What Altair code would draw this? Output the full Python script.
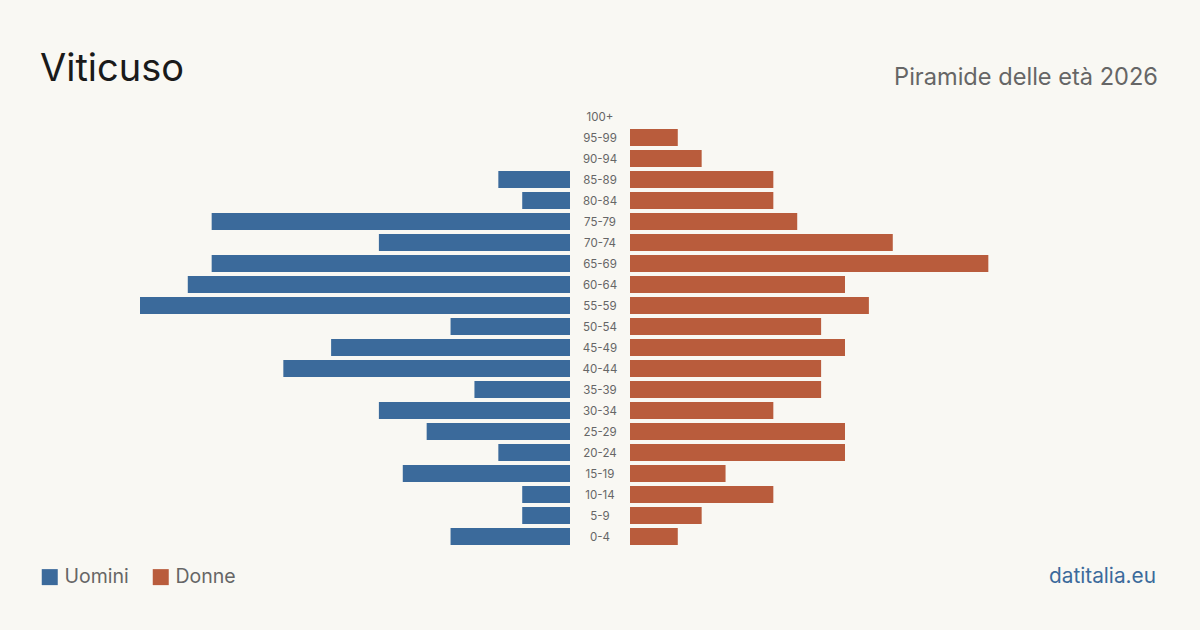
import altair as alt
import pandas as pd

# Age classes, top to bottom
ages = ["100+", "95-99", "90-94", "85-89", "80-84", "75-79", "70-74", "65-69",
        "60-64", "55-59", "50-54", "45-49", "40-44", "35-39", "30-34", "25-29",
        "20-24", "15-19", "10-14", "5-9", "0-4"]
men = [0, 0, 0, 3, 2, 15, 8, 15, 16, 18, 5, 10, 12, 4, 8, 6, 3, 7, 2, 2, 5]
women = [0, 2, 3, 6, 6, 7, 11, 15, 9, 10, 8, 9, 8, 8, 6, 9, 9, 4, 6, 3, 2]

BLUE = "#3b6a9b"
RED = "#b95c3c"
BG = "#f9f8f3"
FONT = "Inter"

men_df = pd.DataFrame({"age": ages, "value": men, "sex": "Uomini"})
women_df = pd.DataFrame({"age": ages, "value": women, "sex": "Donne"})
label_df = pd.DataFrame({"age": ages})

y_enc = alt.Y("age:N", sort=ages, axis=None,
              scale=alt.Scale(range=[106, 547], paddingInner=0.19, paddingOuter=0.095))
color_enc = alt.Color(
    "sex:N",
    scale=alt.Scale(domain=["Uomini", "Donne"], range=[BLUE, RED]),
    legend=alt.Legend(
        orient="none", legendX=40, legendY=567, direction="horizontal",
        title=None, symbolType="square", symbolSize=256, symbolStrokeWidth=0,
        symbolOpacity=1, labelFont=FONT, labelFontSize=19.5, labelColor="#666666",
        labelOffset=5, columnPadding=22,
    ),
)

men_bars = alt.Chart(men_df).mark_bar().encode(
    x=alt.X("value:Q", axis=None, scale=alt.Scale(domain=[0, 18], range=[570, 140], nice=False)),
    y=y_enc,
    color=color_enc,
)

women_bars = alt.Chart(women_df).mark_bar().encode(
    x=alt.X("value:Q", axis=None, scale=alt.Scale(domain=[0, 18], range=[630, 1060], nice=False)),
    y=y_enc,
    color=color_enc,
)

age_labels = alt.Chart(label_df).mark_text(
    font=FONT, fontSize=11.5, color="#666666", align="center", baseline="middle", dy=1
).encode(x=alt.value(600), y=y_enc, text="age:N")

title = alt.Chart(pd.DataFrame({"t": ["Viticuso"]})).mark_text(
    font=FONT, fontSize=38, color="#1a1a1a", align="left", baseline="alphabetic"
).encode(x=alt.value(40), y=alt.value(81), text="t:N")

subtitle = alt.Chart(pd.DataFrame({"t": ["Piramide delle età 2026"]})).mark_text(
    font=FONT, fontSize=23.6, color="#666666", align="right", baseline="alphabetic"
).encode(x=alt.value(1158), y=alt.value(85), text="t:N")

source = alt.Chart(pd.DataFrame({"t": ["datitalia.eu"]})).mark_text(
    font=FONT, fontSize=20.8, color=BLUE, align="right", baseline="alphabetic"
).encode(x=alt.value(1156), y=alt.value(583), text="t:N")

chart = (
    alt.layer(men_bars, women_bars, age_labels, title, subtitle, source)
    .resolve_scale(x="independent")
    .properties(width=1200, height=630, background=BG, padding=0,
                autosize=alt.AutoSizeParams(type="none"))
    .configure_view(stroke=None)
)

chart.save("out.html", embed_options={"renderer": "svg", "actions": False})
